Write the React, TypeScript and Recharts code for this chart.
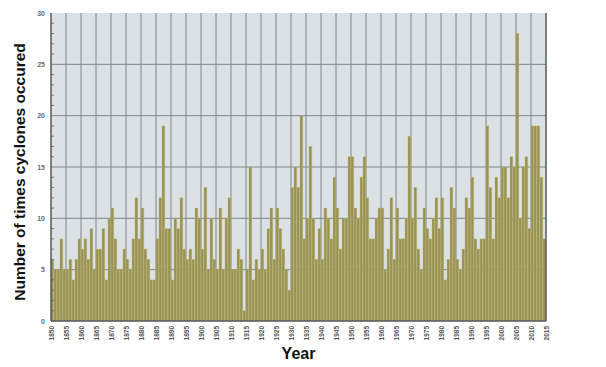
import { BarChart, Bar, XAxis, YAxis, CartesianGrid, Label } from "recharts";

// yearly counts of cyclones, 1850 to 2014
const counts1850s = [6, 5, 5, 8, 5, 5, 6, 4, 6, 8];
const counts1860s = [7, 8, 6, 9, 5, 7, 7, 9, 4, 10];
const counts1870s = [11, 8, 5, 5, 7, 6, 5, 8, 12, 8];
const counts1880s = [11, 7, 6, 4, 4, 8, 12, 19, 9, 9];
const counts1890s = [4, 10, 9, 12, 7, 6, 7, 6, 11, 10];
const counts1900s = [7, 13, 5, 10, 6, 5, 11, 5, 10, 12];
const counts1910s = [5, 5, 7, 6, 1, 5, 15, 4, 6, 5];
const counts1920s = [7, 5, 9, 11, 6, 11, 9, 7, 5, 3];
const counts1930s = [13, 15, 13, 20, 8, 10, 17, 10, 6, 9];
const counts1940s = [6, 11, 10, 8, 14, 11, 7, 10, 10, 16];
const counts1950s = [16, 11, 10, 14, 16, 12, 8, 8, 10, 11];
const counts1960s = [11, 5, 7, 12, 6, 11, 8, 8, 10, 18];
const counts1970s = [10, 13, 7, 5, 11, 9, 8, 10, 12, 9];
const counts1980s = [12, 4, 6, 13, 11, 6, 5, 7, 12, 11];
const counts1990s = [14, 8, 7, 8, 8, 19, 13, 8, 14, 12];
const counts2000s = [15, 15, 12, 16, 15, 28, 10, 15, 16, 9];
const counts2010s = [19, 19, 19, 14, 8];

const firstYear = 1850;
const yearTicks = [
  1850, 1855, 1860, 1865, 1870, 1875, 1880, 1885, 1890, 1895, 1900, 1905,
  1910, 1915, 1920, 1925, 1930, 1935, 1940, 1945, 1950, 1955, 1960, 1965,
  1970, 1975, 1980, 1985, 1990, 1995, 2000, 2005, 2010, 2015,
];
const countTicks = [0, 5, 10, 15, 20, 25, 30];

const counts = [
  ...counts1850s, ...counts1860s, ...counts1870s, ...counts1880s,
  ...counts1890s, ...counts1900s, ...counts1910s, ...counts1920s,
  ...counts1930s, ...counts1940s, ...counts1950s, ...counts1960s,
  ...counts1970s, ...counts1980s, ...counts1990s, ...counts2000s,
  ...counts2010s,
];

const data = counts.map((c, i) => ({ year: firstYear + i + 0.5, count: c }));
const allYears = Array.from({ length: counts.length + 1 }, (_, i) => firstYear + i);
const allUnits = Array.from({ length: 31 }, (_, i) => i);

const PLOT_LEFT = 51;
const PLOT_RIGHT = 546;
const PLOT_TOP = 13;
const PLOT_BOTTOM = 321;
const AXIS = "#55595c";
const TICK_FONT = "'Liberation Sans', Arial, sans-serif";

const LeftTick = (props: any) => {
  const { y, payload } = props;
  const major = countTicks.includes(payload.value);
  return (
    <g>
      {!major && <line x1={PLOT_LEFT} x2={PLOT_LEFT + 3} y1={y} y2={y} stroke={AXIS} strokeWidth={0.7} />}
      {major && (
        <text x={45} y={y + 2.5} textAnchor="end" fontSize={7} fontWeight="bold" fill="#6b6b6b" fontFamily={TICK_FONT}>
          {payload.value}
        </text>
      )}
    </g>
  );
};

const RightTick = (props: any) => {
  const { y, payload } = props;
  const major = countTicks.includes(payload.value);
  return (
    <g>
      {!major && <line x1={PLOT_RIGHT - 3} x2={PLOT_RIGHT} y1={y} y2={y} stroke={AXIS} strokeWidth={0.7} />}
      {major && (
        <text x={552} y={y + 2.5} textAnchor="start" fontSize={7} fontWeight="bold" fill="#6b6b6b" fontFamily={TICK_FONT}>
          {payload.value}
        </text>
      )}
    </g>
  );
};

const TopTick = (props: any) => {
  const { x } = props;
  return <line x1={x} x2={x} y1={PLOT_TOP} y2={PLOT_TOP + 3} stroke={AXIS} strokeWidth={0.7} />;
};

const YearTick = (props: any) => {
  const { x, payload } = props;
  return (
    <text
      transform={`translate(${x + 2.5}, ${PLOT_BOTTOM + 5}) rotate(-90)`}
      textAnchor="end"
      fontSize={6.5}
      fontWeight="bold"
      fill="#555"
      fontFamily={TICK_FONT}
    >
      {payload.value}
    </text>
  );
};

export default function App() {
  return (
    <div style={{ position: "absolute", left: 0, top: 0, background: "#fff" }}>
      <BarChart
        width={606}
        height={367}
        data={data}
        margin={{ top: PLOT_TOP, right: 0, bottom: 0, left: 0 }}
        barCategoryGap={0}
        barGap={0}
      >
        <CartesianGrid
          fill="#dbe1e4"
          stroke="#80878b"
          strokeWidth={1}
          horizontalValues={[5, 10, 15, 20, 25]}
          verticalValues={yearTicks.slice(1, -1)}
          xAxisId="bottom"
          yAxisId="left"
        />
        <XAxis
          xAxisId="bottom"
          dataKey="year"
          type="number"
          domain={[1850, 2015]}
          ticks={yearTicks}
          interval={0}
          height={46}
          axisLine={{ stroke: AXIS, strokeWidth: 1.5 }}
          tickLine={false}
          tick={<YearTick />}
          allowDataOverflow
        >
          <Label
            value="Year"
            position="insideBottom"
            offset={8}
            style={{ fontSize: 16, fontWeight: "bold", fill: "#111", fontFamily: TICK_FONT }}
          />
        </XAxis>
        <XAxis
          xAxisId="top"
          orientation="top"
          type="number"
          domain={[1850, 2015]}
          ticks={allYears}
          interval={0}
          height={0}
          axisLine={{ stroke: AXIS, strokeWidth: 1.5 }}
          tickLine={false}
          tick={<TopTick />}
          allowDataOverflow
        />
        <YAxis
          yAxisId="left"
          domain={[0, 30]}
          ticks={allUnits}
          interval={0}
          width={PLOT_LEFT}
          axisLine={{ stroke: AXIS, strokeWidth: 1.5 }}
          tickLine={false}
          tick={<LeftTick />}
        >
          <Label
            value="Number of times cyclones occured"
            angle={-90}
            position="center"
            dx={-6}
            dy={5}
            style={{ fontSize: 15.5, fontWeight: "bold", fill: "#111", fontFamily: TICK_FONT, textAnchor: "middle" }}
          />
        </YAxis>
        <YAxis
          yAxisId="right"
          orientation="right"
          domain={[0, 30]}
          ticks={allUnits}
          interval={0}
          width={606 - PLOT_RIGHT}
          axisLine={{ stroke: AXIS, strokeWidth: 1.5 }}
          tickLine={false}
          tick={<RightTick />}
        />
        <Bar
          xAxisId="bottom"
          yAxisId="left"
          dataKey="count"
          barSize={3}
          fill="#999250"
          stroke="#bdb774"
          strokeWidth={0.4}
          isAnimationActive={false}
        />
      </BarChart>
    </div>
  );
}
